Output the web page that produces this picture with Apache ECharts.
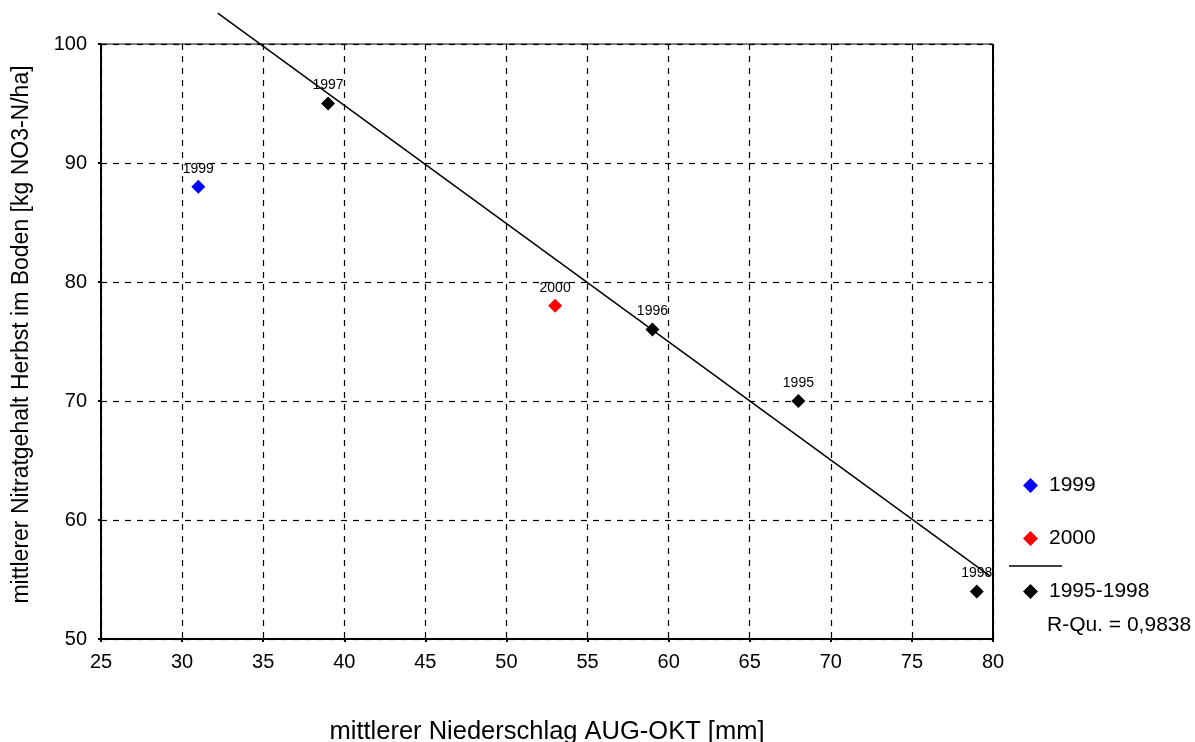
<!DOCTYPE html>
<html>
<head>
<meta charset="utf-8">
<script src="https://cdn.jsdelivr.net/npm/echarts@6/dist/echarts.min.js"></script>
<style>
  html, body { margin: 0; padding: 0; background: #fff; }
  #chart { width: 1195px; height: 742px; }
</style>
</head>
<body>
<div id="chart"></div>
<script>
// points
const years1999 = ['1999'];
const rain1999 = [31];
const nitrate1999 = [88];

const years2000 = ['2000'];
const rain2000 = [53];
const nitrate2000 = [78];

const yearsBase = ['1995', '1996', '1997', '1998'];
const rainBase = [68, 59, 39, 79];
const nitrateBase = [70, 76, 95, 54];

// regression line end points (as drawn)
const fitX = [32.2, 79.8];
const fitY = [102.6, 55.3];

const xTicks = [25, 30, 35, 40, 45, 50, 55, 60, 65, 70, 75, 80];
const yTicks = [50, 60, 70, 80, 90, 100];

const legendNames = ['1999', '2000', '1995-1998'];
const legendTops = [470, 523, 576];

const font = 'Liberation Sans, Arial, sans-serif';

function toPoints(names, xs, ys) {
    return names.map((n, i) => ({ name: n, value: [xs[i], ys[i]] }));
}

function scatter(name, color, data) {
    return {
        name: name,
        type: 'scatter',
        symbol: 'diamond',
        symbolSize: 14,
        itemStyle: { color: color, opacity: 1 },
        label: {
            show: true,
            position: 'top',
            distance: 4,
            formatter: p => p.name,
            fontFamily: font,
            fontSize: 14,
            color: '#000'
        },
        data: data,
        z: 3
    };
}

var chartDom = document.getElementById('chart');
var myChart = echarts.init(chartDom);
var option;
option = {
    backgroundColor: '#fff',
    animation: false,
    textStyle: { fontFamily: font },
    grid: { left: 101, top: 44, right: 202, bottom: 103, outerBoundsMode: 'none' },
    xAxis: {
        type: 'value',
        min: xTicks[0],
        max: xTicks[xTicks.length - 1],
        interval: 5,
        name: 'mittlerer Niederschlag AUG-OKT [mm]',
        nameLocation: 'middle',
        nameGap: 80,
        nameTextStyle: { fontSize: 25.5, color: '#000' },
        axisLine: { show: true, lineStyle: { color: '#000', width: 2 } },
        axisTick: { show: true, length: 3, lineStyle: { color: '#000', width: 2 } },
        axisLabel: { fontSize: 20, color: '#000', margin: 13 },
        splitLine: { show: true, lineStyle: { color: '#000', type: [6, 6], width: 1.2 } }
    },
    yAxis: {
        type: 'value',
        min: yTicks[0],
        max: yTicks[yTicks.length - 1],
        interval: 10,
        name: 'mittlerer Nitratgehalt Herbst im Boden [kg NO3-N/ha]',
        nameLocation: 'middle',
        nameGap: 68,
        nameTextStyle: { fontSize: 23, color: '#000', padding: [0, 0, 0, 14] },
        axisLine: { show: true, lineStyle: { color: '#000', width: 2 } },
        axisTick: { show: true, length: 3, lineStyle: { color: '#000', width: 2 } },
        axisLabel: { fontSize: 20, color: '#000', margin: 14 },
        splitLine: { show: true, lineStyle: { color: '#000', type: [6, 6], width: 1.2 } }
    },
    legend: legendNames.map((n, i) => ({
        orient: 'vertical',
        left: 1018,
        top: legendTops[i],
        itemWidth: 15,
        itemHeight: 15,
        textStyle: { fontSize: 21, color: '#000', padding: [6, 0, 0, 6] },
        data: [{ name: n, icon: 'diamond' }]
    })),
    graphic: [
        // right frame of plot area
        {
            type: 'line',
            shape: { x1: 993, y1: 44, x2: 993, y2: 639 },
            style: { stroke: '#000', lineWidth: 2 }
        },
        {
            type: 'line',
            shape: { x1: 101, y1: 44, x2: 993, y2: 44 },
            style: { stroke: '#000', lineWidth: 1 }
        },
        // legend line for regression
        {
            type: 'line',
            shape: { x1: 1009, y1: 566, x2: 1062, y2: 566 },
            style: { stroke: '#000', lineWidth: 1.5 }
        },
        {
            type: 'text',
            left: 1047,
            top: 615,
            style: { text: 'R-Qu. = 0,9838', fontSize: 21, fontFamily: font, fill: '#000' }
        }
    ],
    series: [
        scatter('1999', '#0000ff', toPoints(years1999, rain1999, nitrate1999)),
        scatter('2000', '#ff0000', toPoints(years2000, rain2000, nitrate2000)),
        scatter('1995-1998', '#000000', toPoints(yearsBase, rainBase, nitrateBase)),
        {
            name: 'Regression',
            type: 'line',
            clip: false,
            symbol: 'none',
            lineStyle: { color: '#000', width: 1.5 },
            data: fitX.map((x, i) => [x, fitY[i]]),
            z: 4
        }
    ]
};
option && myChart.setOption(option);
</script>
</body>
</html>
